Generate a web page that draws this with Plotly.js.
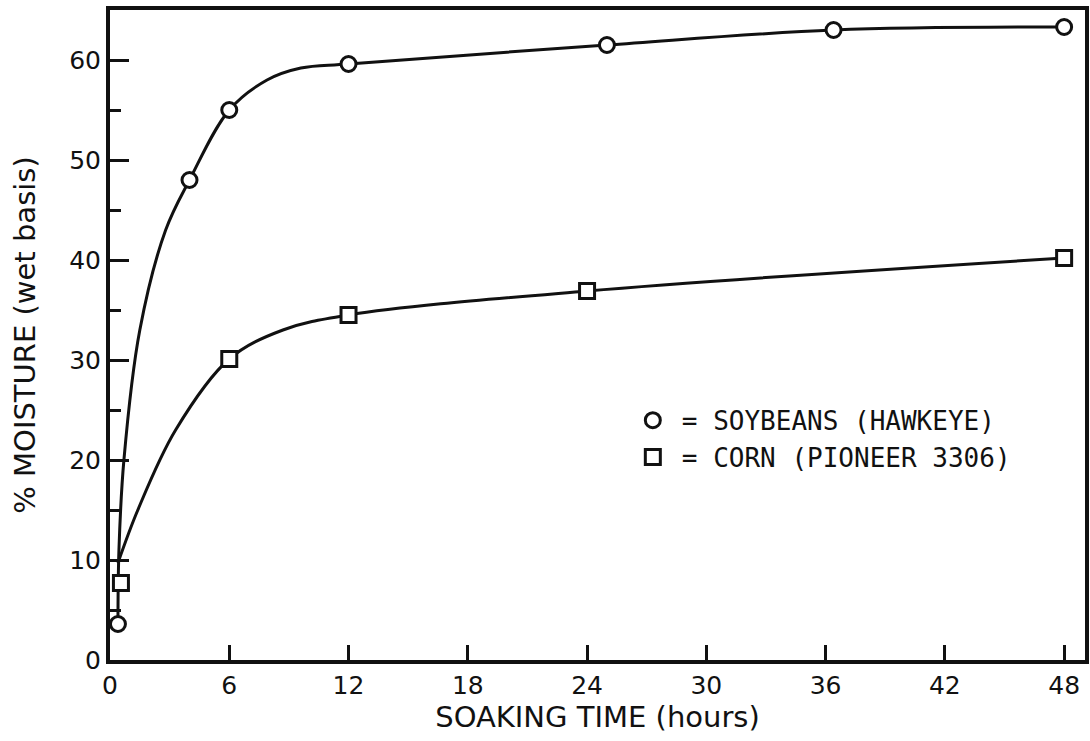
<!DOCTYPE html>
<html>
<head>
<meta charset="utf-8">
<script src="https://cdn.plot.ly/plotly-3.0.1.min.js"></script>
<style>html,body{margin:0;padding:0;background:#fff;}#chart{width:1090px;height:741px;}</style>
</head>
<body>
<div id="chart"></div>
<script>
const soyHours = [0.4, 4, 6, 12, 25, 36.4, 48];
const soyMoisture = [3.6, 48, 55, 59.6, 61.5, 63.0, 63.3];
const cornHours = [0.55, 6, 12, 24, 48];
const cornMoisture = [7.7, 30.1, 34.5, 36.9, 40.2];

// Hand-drawn fitted curves
const soyCurveHours = [0.4, 0.45, 0.7, 1.5, 2.8, 4, 6, 7.9, 9.6, 12, 25, 36.4, 48];
const soyCurveMoisture = [3.6, 11, 20, 33, 43, 48, 55, 58.0, 59.2, 59.6, 61.5, 63.0, 63.3];
const cornCurveHours = [0.4, 1.4, 3.3, 6, 8.7, 12, 24, 48];
const cornCurveMoisture = [9.7, 15, 23, 30.1, 33, 34.5, 36.9, 40.2];

const xTicks = [0, 6, 12, 18, 24, 30, 36, 42, 48];
const yTicks = [0, 10, 20, 30, 40, 50, 60];

const soyLabel = "= SOYBEANS (HAWKEYE)";
const cornLabel = "= CORN (PIONEER 3306)";
const xTitle = "SOAKING TIME (hours)";
const yTitle = "% MOISTURE (wet basis)";

const ink = "#111";
const axisFont = {family: "DejaVu Sans, sans-serif", size: 25, color: ink};
const titleFont = {family: "DejaVu Sans, sans-serif", size: 29, color: ink};

const traces = [
  {x: soyCurveHours, y: soyCurveMoisture, mode: "lines", line: {color: ink, width: 3, shape: "spline", smoothing: 1}, showlegend: false, hoverinfo: "skip"},
  {x: cornCurveHours, y: cornCurveMoisture, mode: "lines", line: {color: ink, width: 3, shape: "spline", smoothing: 1}, showlegend: false, hoverinfo: "skip"},
  {x: soyHours, y: soyMoisture, mode: "markers", name: soyLabel,
   marker: {symbol: "circle", size: 15, color: "#fff", line: {color: ink, width: 3}}},
  {x: cornHours, y: cornMoisture, mode: "markers", name: cornLabel,
   marker: {symbol: "square", size: 15, color: "#fff", line: {color: ink, width: 3}}}
];

const layout = {
  width: 1090, height: 741,
  margin: {l: 110, r: 5, t: 10, b: 81},
  paper_bgcolor: "#fff", plot_bgcolor: "#fff",
  showlegend: true,
  legend: {x: 0.527, xanchor: "left", y: 0.405, yanchor: "top",
           font: {family: "DejaVu Sans Mono, monospace", size: 26, color: ink},
           itemwidth: 48, tracegroupgap: 0, bgcolor: "rgba(0,0,0,0)"},
  xaxis: {
    range: [0, 49.05], tickvals: xTicks, ticktext: xTicks.map(String),
    ticks: "inside", ticklen: 15, tickwidth: 3, tickcolor: ink,
    showline: true, linewidth: 4, linecolor: ink, mirror: true,
    showgrid: false, zeroline: false, tickfont: axisFont,
    title: {text: xTitle, font: titleFont, standoff: 8}
  },
  yaxis: {
    range: [0, 65], tickvals: yTicks, ticktext: yTicks.map(String),
    ticks: "inside", ticklen: 19, tickwidth: 3, tickcolor: ink,
    minor: {dtick: 5, tick0: 0, ticks: "inside", ticklen: 11, tickwidth: 3, tickcolor: ink, showgrid: false},
    showline: true, linewidth: 4, linecolor: ink, mirror: true,
    showgrid: false, zeroline: false, tickfont: axisFont,
    title: {text: yTitle, font: titleFont, standoff: 26}
  }
};

Plotly.newPlot("chart", traces, layout, {displayModeBar: false, staticPlot: true});
</script>
</body>
</html>
